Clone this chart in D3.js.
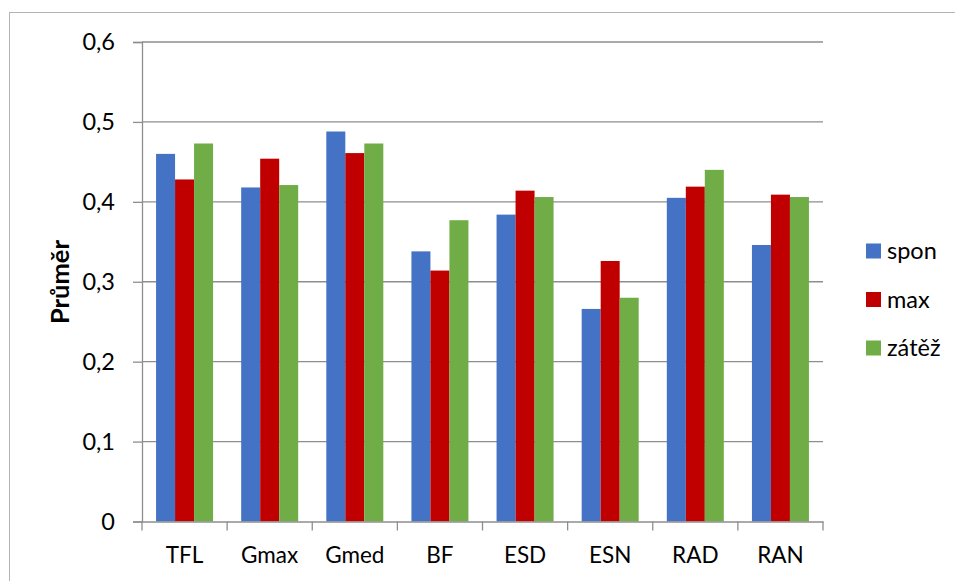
<!DOCTYPE html>
<html><head><meta charset="utf-8">
<script src="https://cdn.jsdelivr.net/npm/d3@7"></script>
<style>body{margin:0;background:#fff}svg{display:block}text{font-family:Lato,"Open Sans",sans-serif}</style>
</head><body>
<svg id="c" width="955" height="581"></svg>
<script>
const categories = ["TFL","Gmax","Gmed","BF","ESD","ESN","RAD","RAN"];
const seriesNames = ["spon","max","zátěž"];
const spon  = [0.460,0.418,0.488,0.338,0.384,0.266,0.405,0.346];
const maxV  = [0.428,0.454,0.461,0.314,0.414,0.326,0.419,0.409];
const zatez = [0.473,0.421,0.473,0.377,0.406,0.280,0.440,0.406];
const yTicks = [0,0.1,0.2,0.3,0.4,0.5,0.6];
const colors = ["#4472C4","#C00000","#70AD47"];
const yLabel = "Průměr";

const series = [spon,maxV,zatez];
const svg = d3.select("#c");
const m = {l:142,r:823,t:42,b:521.5};

// outer frame
svg.append("rect").attr("x",9.5).attr("y",12.5).attr("width",960).attr("height",600)
  .attr("fill","none").attr("stroke","#b4b4b4").attr("stroke-width",1);

const x = d3.scaleBand().domain(categories).range([m.l,m.r]).paddingInner(0).paddingOuter(0);
const x1 = d3.scaleBand().domain(seriesNames).range([0,x.bandwidth()]).paddingInner(0).paddingOuter(0.74);
const y = d3.scaleLinear().domain([0,0.6]).range([m.b,m.t]);

// gridlines
svg.append("g").selectAll("line").data(yTicks.filter(d=>d>0)).join("line")
  .attr("x1",m.l).attr("x2",m.r).attr("y1",d=>y(d)).attr("y2",d=>y(d))
  .attr("stroke","#8e8e8e").attr("stroke-width",1.3);

// bars
const g = svg.append("g").selectAll("g").data(categories).join("g")
  .attr("transform",c=>`translate(${x(c)},0)`);
g.selectAll("rect").data((c,i)=>seriesNames.map((s,j)=>({s,j,v:series[j][i]}))).join("rect")
  .attr("x",d=>x1(d.s)).attr("width",x1.bandwidth())
  .attr("y",d=>y(d.v)).attr("height",d=>y(0)-y(d.v))
  .attr("fill",d=>colors[d.j]);

// y axis
const ya = svg.append("g").attr("transform",`translate(${m.l},0)`)
  .call(d3.axisLeft(y).tickValues(yTicks).tickSize(9).tickPadding(18)
    .tickFormat(d=>d3.format(".1f")(d).replace(".",",").replace(/^0,0$/,"0")));
ya.select(".domain").attr("stroke","#8e8e8e").attr("stroke-width",1.3);
ya.selectAll(".tick line").attr("stroke","#8e8e8e").attr("stroke-width",1.3);
ya.selectAll("text").attr("fill","#000")
  .style("font-family","Lato").style("font-size","23.5px").style("font-weight","400");

// x axis
const xa = svg.append("g").attr("transform",`translate(0,${m.b})`)
  .call(d3.axisBottom(x).tickSize(0).tickPadding(26));
xa.select(".domain").attr("stroke","#8e8e8e").attr("stroke-width",1.3);
xa.selectAll("text").attr("fill","#000")
  .style("font-family","Lato").style("font-size","22.5px").style("font-weight","400");
svg.append("g").selectAll("line").data(d3.range(categories.length+1)).join("line")
  .attr("x1",i=>m.l+i*x.step()).attr("x2",i=>m.l+i*x.step())
  .attr("y1",m.b).attr("y2",m.b+9).attr("stroke","#8e8e8e").attr("stroke-width",1.3);

// y label
svg.append("text").attr("transform","translate(69,282) rotate(-90)")
  .attr("text-anchor","middle").style("font-size","25.5px").style("font-weight","700").text(yLabel);

// legend
const lg = svg.append("g").selectAll("g").data(seriesNames).join("g")
  .attr("transform",(d,i)=>`translate(866,${251+i*48.5})`);
lg.append("rect").attr("x",0).attr("y",-7.5).attr("width",15).attr("height",15).attr("fill",(d,i)=>colors[i]);
lg.append("text").attr("x",21).attr("y",0).attr("dy","0.35em")
  .style("font-size","23.5px").style("font-weight","400").text(d=>d);
</script>
</body></html>
